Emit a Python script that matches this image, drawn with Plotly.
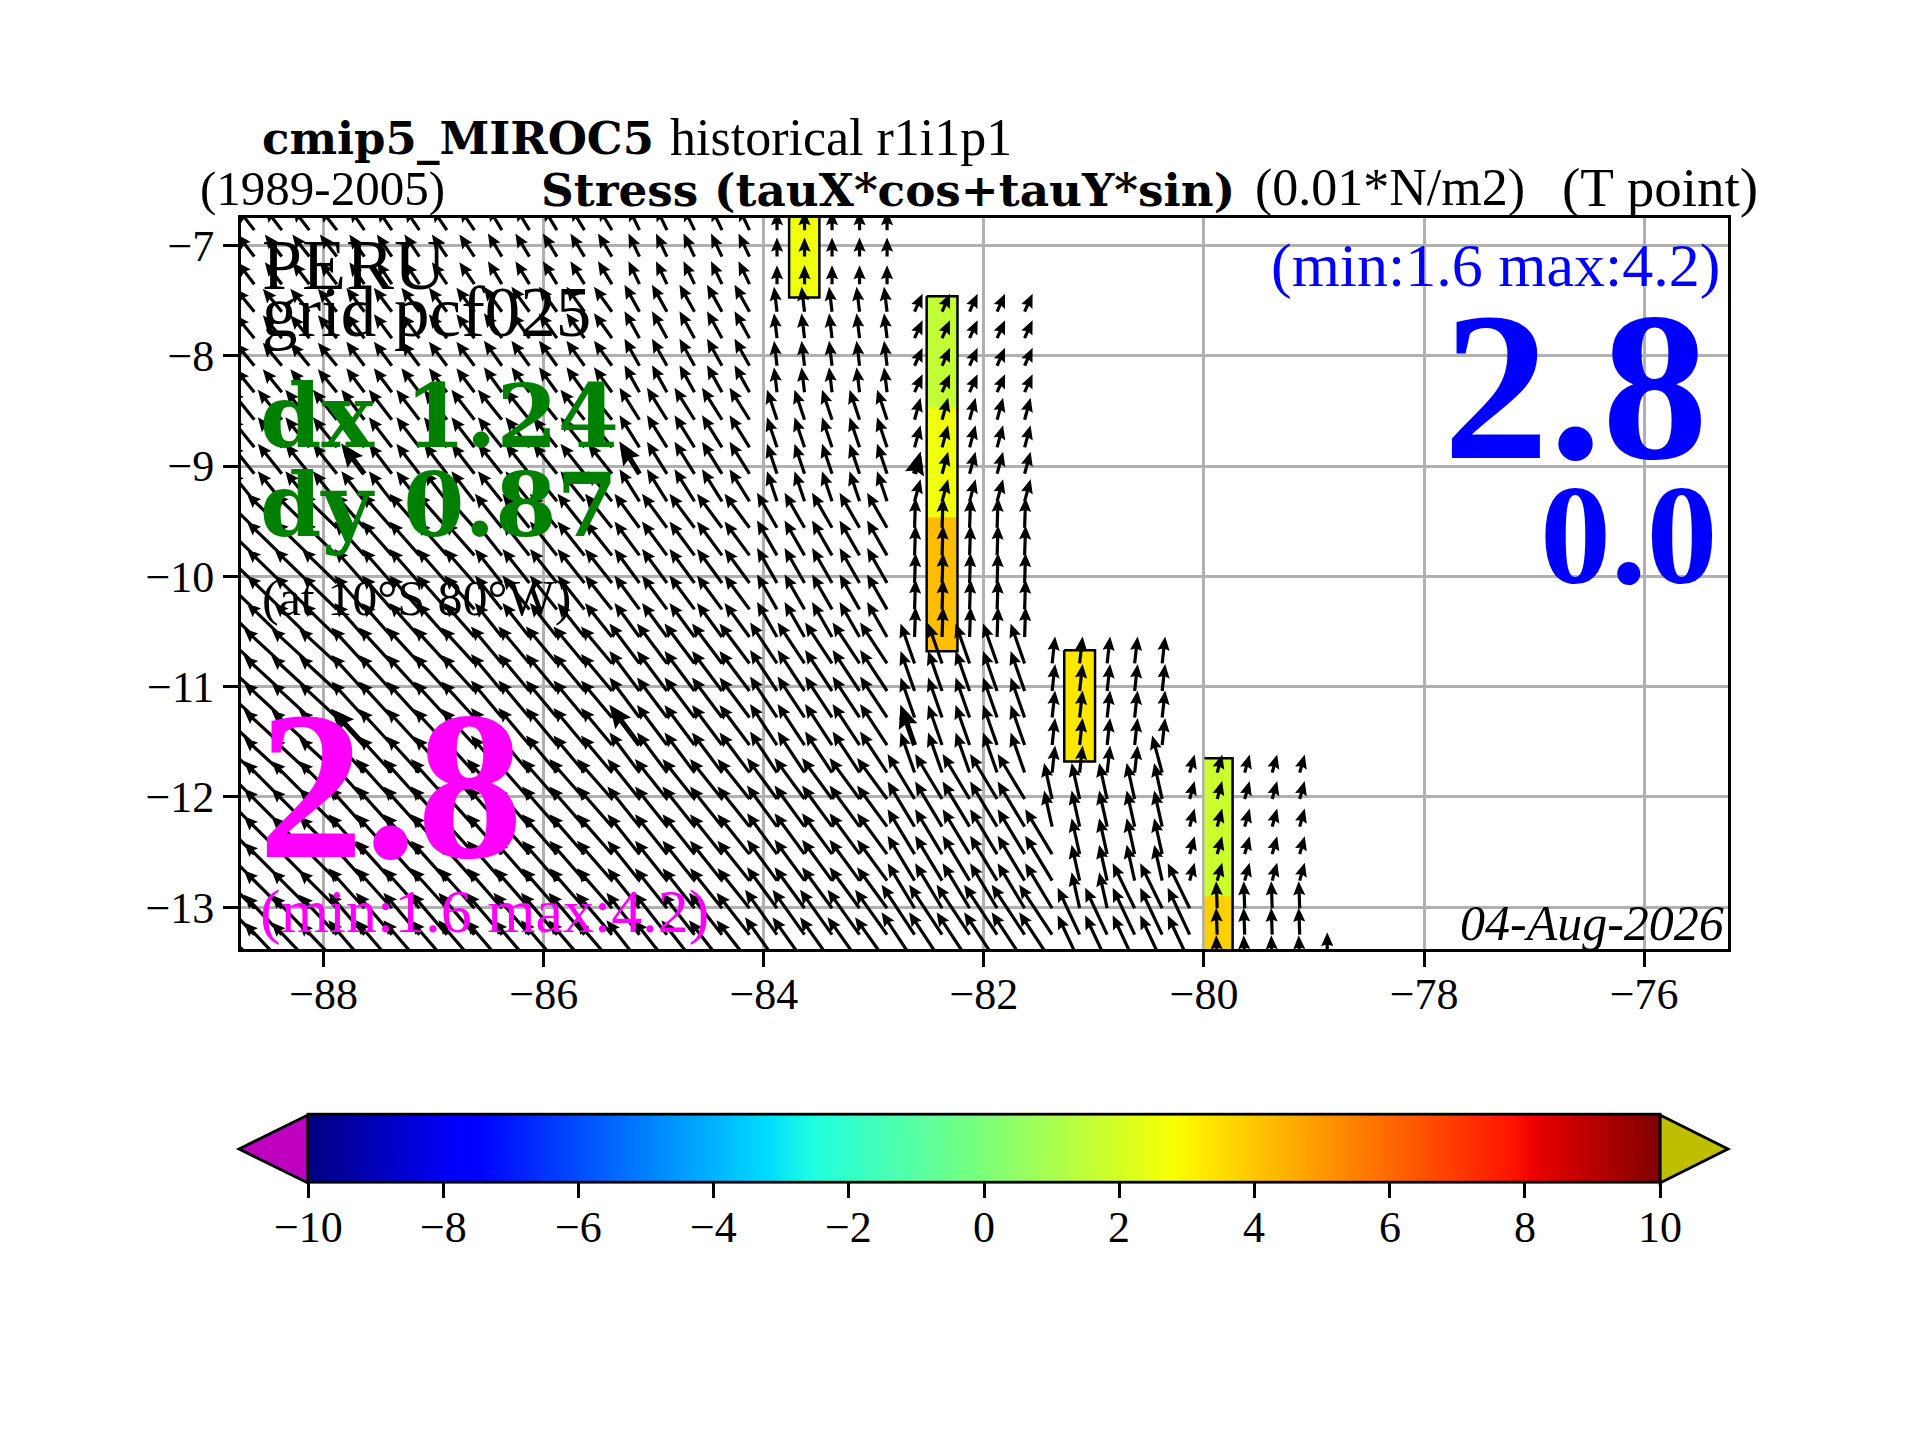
import plotly.graph_objects as go

# grid of the arrows (T points), deg
LONS = [-88.63, -88.38, -88.13, -87.88, -87.63, -87.38, -87.13, -86.88, -86.63, -86.38,
        -86.13, -85.88, -85.63, -85.38, -85.13, -84.88, -84.63, -84.38, -84.13, -83.88,
        -83.63, -83.38, -83.13, -82.88, -82.63, -82.38, -82.13, -81.88, -81.63, -81.38,
        -81.13, -80.88, -80.63, -80.38, -80.13, -79.88, -79.63, -79.38, -79.13, -78.88]
LATS = [-6.86, -7.10, -7.35, -7.60, -7.84, -8.09, -8.33, -8.58, -8.83, -9.07,
        -9.32, -9.56, -9.81, -10.06, -10.30, -10.55, -10.79, -11.04, -11.28, -11.53,
        -11.78, -12.02, -12.27, -12.52, -12.76, -13.01, -13.25, -13.50]

# the model grid is coarse: how many grid rows / columns fall in each model cell
BAND_ROWS = [3, 4, 4, 5, 5, 5, 2]
GROUP_COLS = [4, 5, 5, 5, 5, 5, 5, 5, 1]

# stress per model cell, None = land
TAU_X = [
    [-1.7, -1.5, -1.4, -1.1, 0.0, None, None, None, None],
    [-1.9, -1.8, -1.8, -1.5, -0.3, 0.8, None, None, None],
    [-2.4, -2.3, -2.4, -2.0, -1.0, 0.6, None, None, None],
    [-3.5, -3.0, -2.7, -2.5, -2.0, 0.1, None, None, None],
    [-3.8, -3.3, -3.1, -3.0, -2.7, -1.4, 0.3, None, None],
    [-3.8, -3.6, -3.5, -3.2, -3.0, -2.7, -0.8, 0.5, None],
    [-3.8, -3.6, -3.6, -3.3, -3.2, -3.3, -2.2, -0.1, 0.0],
]
TAU_Y = [
    [2.2, 2.2, 2.3, 2.3, 1.9, None, None, None, None],
    [2.3, 2.4, 2.5, 2.7, 2.5, 1.8, None, None, None],
    [3.0, 3.0, 3.0, 3.2, 3.0, 2.2, None, None, None],
    [3.4, 3.4, 3.4, 3.4, 3.5, 3.0, None, None, None],
    [3.5, 3.6, 3.7, 4.0, 4.1, 4.0, 2.7, None, None],
    [3.8, 4.0, 4.0, 4.0, 4.1, 4.5, 3.6, 1.8, None],
    [4.0, 4.2, 4.2, 4.2, 4.5, 5.0, 4.7, 2.7, 3.0],
]

# points along the stepped coast that do not follow the cell: (col, row, tauX, tauY)
COAST_POINTS = [
    (33, 20, -1.0, 3.7),
    (34, 20, 0.5, 1.8), (35, 20, 0.5, 1.8), (36, 20, 0.5, 1.8), (37, 20, 0.5, 1.8), (38, 20, 0.5, 1.8),
    (29, 23, -2.7, 4.5), (29, 24, -2.7, 4.5), (29, 25, -2.7, 4.5),
    (29, 26, -3.3, 5.0), (29, 27, -3.3, 5.0),
    (32, 25, -2.2, 4.5), (33, 25, -2.2, 4.5), (34, 25, -2.2, 4.5),
    (35, 25, -0.1, 2.7), (36, 25, -0.1, 2.7), (37, 25, -0.1, 2.7), (38, 25, -0.1, 2.7),
    (34, 26, -2.2, 4.7), (34, 27, -2.2, 4.7),
    (39, 26, None, None),
]

# arrows drawn a second time, thicker
BOLD_COLS = [4, 14, 24]
BOLD_ROWS = [9, 19]

# coloured strips of the alongshore stress
STRIP_LEFT = [-83.77, -82.52, -81.27, -79.995]
STRIP_RIGHT = [-83.495, -82.24, -80.99, -79.74]
STRIP_LATS = [[-7.47, -6.5], [-10.68, -9.46, -8.47, -7.46], [-11.68, -10.67], [-13.5, -12.9, -11.65]]
STRIP_VALUES = [[2.6], [4.2, 2.6, 1.6], [3.3], [3.8, 1.8]]

X_TICKS = [-88, -86, -84, -82, -80, -78, -76]
Y_TICKS = [-13, -12, -11, -10, -9, -8, -7]
CB_TICKS = [-10, -8, -6, -4, -2, 0, 2, 4, 6, 8, 10]

W, H = 1920, 1440
AX_L, AX_R, AX_T, AX_B = 241, 1728, 218, 949
X_RANGE = [-88.751, -75.238]
Y_RANGE = [-13.38, -6.75]
PX_LON = (AX_R - AX_L) / (X_RANGE[1] - X_RANGE[0])
PX_LAT = (AX_B - AX_T) / (Y_RANGE[1] - Y_RANGE[0])
PX_PER_TAU = 10
CB_L, CB_R, CB_T, CB_B = 308, 1660, 1115, 1183

SERIF = "Liberation Serif"
SERIF_BOLD = "DejaVu Serif"

JET = [[0.0, "rgb(0,0,127)"], [0.11, "rgb(0,0,255)"], [0.125, "rgb(0,0,255)"], [0.34, "rgb(0,220,255)"],
       [0.375, "rgb(32,255,223)"], [0.5, "rgb(124,255,122)"], [0.64, "rgb(248,255,3)"], [0.66, "rgb(255,236,0)"],
       [0.89, "rgb(255,20,0)"], [0.91, "rgb(232,0,0)"], [1.0, "rgb(127,0,0)"]]


def arrow(lon, lat, u, v, w):
    dx, dy = u * PX_PER_TAU, v * PX_PER_TAU
    length = (dx**2 + dy**2)**0.5
    ax, ay = dx / length, dy / length
    nx, ny = -ay, ax
    outline = [(0, -w/2), (length - 3.9*w, -w/2), (length - 4.4*w, -1.9*w), (length, 0),
               (length - 4.4*w, 1.9*w), (length - 3.9*w, w/2), (0, w/2), (0, -w/2)]
    xs = [lon + (a*ax + p*nx) / PX_LON for a, p in outline]
    ys = [lat + (a*ay + p*ny) / PX_LAT for a, p in outline]
    return xs + [None], ys + [None]


def cell_index(i, counts):
    for n, c in enumerate(counts):
        if i < c:
            return n
        i -= c


def field():
    tau = {}
    for k in range(len(LATS)):
        for j in range(len(LONS)):
            b, g = cell_index(k, BAND_ROWS), cell_index(j, GROUP_COLS)
            tau[(j, k)] = (TAU_X[b][g], TAU_Y[b][g])
    for j, k, u, v in COAST_POINTS:
        tau[(j, k)] = (u, v)
    return tau


def label(text, px, base, size, color="black", family=SERIF, anchor="left"):
    fig.add_annotation(text=text, x=px / W, y=1 - (base - 0.34*size) / H, xref="paper", yref="paper",
                       xanchor=anchor, yanchor="middle", showarrow=False,
                       font=dict(family=family, size=size, color=color))


fig = go.Figure()

# strips
for left, right, lats, vals in zip(STRIP_LEFT, STRIP_RIGHT, STRIP_LATS, STRIP_VALUES):
    fig.add_trace(go.Heatmap(x=[left, right], y=lats, z=[[v] for v in vals], coloraxis="coloraxis",
                             hoverinfo="skip"))
    if left == STRIP_LEFT[-1]:
        # left side lies under the -80 grid line
        xs, ys = [left, right, right], [lats[-1], lats[-1], lats[0]]
    else:
        xs, ys = [left, right, right, left, left], [lats[-1], lats[-1], lats[0], lats[0], lats[-1]]
    fig.add_trace(go.Scatter(x=xs, y=ys, mode="lines", line=dict(color="black", width=2.5), hoverinfo="skip"))

# arrows
tau = field()
xs, ys, bx, by = [], [], [], []
for (j, k), (u, v) in tau.items():
    if u is None:
        continue
    x, y = arrow(LONS[j], LATS[k], u, v, 3.2)
    xs += x
    ys += y
    if j in BOLD_COLS and k in BOLD_ROWS:
        x, y = arrow(LONS[j], LATS[k], u, v, 5.2)
        bx += x
        by += y
for x, y in [(xs, ys), (bx, by)]:
    fig.add_trace(go.Scatter(x=x, y=y, mode="lines", fill="toself", fillcolor="black",
                             line=dict(color="black", width=0, simplify=False), hoverinfo="skip"))

fig.update_layout(
    width=W, height=H, margin=dict(l=0, r=0, t=0, b=0), showlegend=False,
    paper_bgcolor="white", plot_bgcolor="white",
    font=dict(family=SERIF, size=44, color="black"),
    xaxis=dict(domain=[AX_L / W, AX_R / W], range=X_RANGE, tickmode="array", tickvals=X_TICKS,
               showgrid=True, gridcolor="#b0b0b0", gridwidth=2.8, zeroline=False,
               showline=True, mirror=True, linecolor="black", linewidth=2.8,
               ticks="outside", ticklen=15, tickwidth=2.8, tickcolor="black", ticklabelstandoff=-11),
    yaxis=dict(domain=[1 - AX_B / H, 1 - AX_T / H], range=Y_RANGE, tickmode="array", tickvals=Y_TICKS,
               showgrid=True, gridcolor="#b0b0b0", gridwidth=2.8, zeroline=False,
               showline=True, mirror=True, linecolor="black", linewidth=2.8,
               ticks="outside", ticklen=15, tickwidth=2.8, tickcolor="black", ticklabelstandoff=0),
    coloraxis=dict(
        cmin=-10, cmax=10, colorscale=JET,
        colorbar=dict(orientation="h", lenmode="pixels", len=CB_R - CB_L, thicknessmode="pixels",
                      thickness=CB_B - CB_T, x=(CB_L + CB_R) / 2 / W, xanchor="center",
                      y=1 - (CB_B + 17) / H, yanchor="bottom", xpad=0, ypad=0,
                      outlinecolor="black", outlinewidth=2.8, tickmode="array", tickvals=CB_TICKS,
                      ticks="outside", ticklen=15, tickwidth=2.8, tickcolor="black", showticklabels=False),
    ),
)

# colour bar ends
fig.add_shape(type="path", xref="paper", yref="paper", fillcolor="#bf00bf", line=dict(color="black", width=2.8),
              path=f"M {CB_L/W} {1-CB_T/H} L 0.1245 {1-(CB_T+CB_B)/2/H} L {CB_L/W} {1-CB_B/H} Z")
fig.add_shape(type="path", xref="paper", yref="paper", fillcolor="#bfbf00", line=dict(color="black", width=2.8),
              path=f"M {CB_R/W} {1-CB_T/H} L 0.9000 {1-(CB_T+CB_B)/2/H} L {CB_R/W} {1-CB_B/H} Z")
for t in CB_TICKS:
    label(str(t).replace("-", "\u2212"), CB_L + (t + 10) / 20 * (CB_R - CB_L), 1242, 44, anchor="center")

# titles
label("<b>cmip5_MIROC5</b>", 260, 154, 45, family=SERIF_BOLD)
label("historical r1i1p1", 668, 155, 52)
label("(1989-2005)", 198, 205, 49)
label("<b>Stress (tauX*cos+tauY*sin)</b>", 539, 205, 45.3, family=SERIF_BOLD)
label("(0.01*N/m2)", 1253, 206, 52)
label("(T point)", 1560, 206, 55)

# text inside the map
label("PERU", 260, 289, 72)
label("grid pcf025", 260, 336, 71)
label("<b>dx 1.24</b>", 258, 446, 88, "green", SERIF_BOLD)
label("<b>dy 0.87</b>", 258, 535, 88, "green", SERIF_BOLD)
label("(at 10\u00b0S 80\u00b0W)", 260, 615, 50)
label("<b>2.8</b>", 256, 858, 212, "#ff00ff")
label("(min:1.6 max:4.2)", 258, 933, 62, "#ff00ff")
label("(min:1.6 max:4.2)", 1722, 287, 62, "blue", anchor="right")
label("<b>2.8</b>", 1710, 459, 212, "blue", anchor="right")
label("<b>0.0</b>", 1720, 583, 142, "blue", anchor="right")
label("<i>04-Aug-2026</i>", 1726, 940, 50, anchor="right")

fig.write_html("out.html", config=dict(displayModeBar=False),
               post_script="document.body.style.margin='0';")
